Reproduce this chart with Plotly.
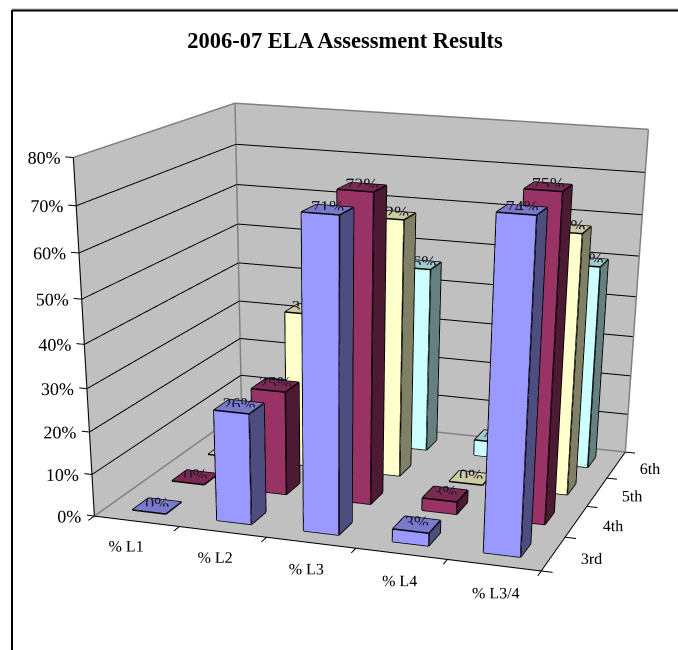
import plotly.graph_objects as go

categories = ["% L1", "% L2", "% L3", "% L4", "% L3/4"]
grades = ["3rd", "4th", "5th", "6th"]
results = {
    "3rd": [0, 26, 71, 3, 74],
    "4th": [0, 25, 72, 3, 75],
    "5th": [0, 38, 62, 0, 62],
    "6th": [0, 50, 46, 4, 50],
}
z_ticks = [0, 10, 20, 30, 40, 50, 60, 70, 80]

# front, side and top shades for each grade
shades = {
    "3rd": ("#9999FF", "#4D4D80", "#7A7ACC"),
    "4th": ("#993366", "#4D1A33", "#7A2952"),
    "5th": ("#FFFFCC", "#808066", "#CCCCA3"),
    "6th": ("#CCFFFF", "#668080", "#A3CCCC"),
}

BAR = 0.4
PAGE_W, PAGE_H = 826, 1600
SERIF = "Liberation Serif, Times New Roman, serif"
INK = "#1a1a2a"
WALL = "#C0C0C0"
FLAT = dict(ambient=1, diffuse=0, specular=0, roughness=1, fresnel=0)

# spare room around the chart box so ticks and labels are not clipped by the scene
PAD_X, PAD_Y, PAD_Z = 1, 1, 10
BOX_ASPECT = (1, 0.8756, 0.7501)


def line_trace(pairs, color, width):
    xs, ys, zs = [], [], []
    for a, b in pairs:
        xs += [a[0], b[0], None]
        ys += [a[1], b[1], None]
        zs += [a[2], b[2], None]
    return go.Scatter3d(x=xs, y=ys, z=zs, mode="lines", hoverinfo="skip",
                        line=dict(color=color, width=width), showlegend=False)


def text_trace(xs, ys, zs, labels, size, position="middle center", color="#000000"):
    return go.Scatter3d(x=xs, y=ys, z=zs, mode="text", text=labels, hoverinfo="skip",
                        textposition=position, showlegend=False,
                        textfont=dict(family=SERIF, size=size, color=color))


def panel(px, py, pz, color):
    return go.Mesh3d(x=px, y=py, z=pz, i=[0, 0], j=[1, 2], k=[2, 3], color=color,
                     flatshading=True, hoverinfo="skip", lighting=FLAT)


def bar_traces(cat, depth, value, colors):
    x0, x1 = cat + 0.5 - BAR / 2, cat + 0.5 + BAR / 2
    y0, y1 = depth + 0.5 - BAR / 2, depth + 0.5 + BAR / 2
    z0, z1 = 0, value
    px = [x0, x1, x1, x0, x0, x1, x1, x0]
    py = [y0, y0, y1, y1, y0, y0, y1, y1]
    pz = [z0, z0, z0, z0, z1, z1, z1, z1]
    # two triangles each for the front, right and top faces
    ii = [0, 0, 1, 1, 4, 4]
    jj = [1, 5, 2, 6, 5, 6]
    kk = [5, 4, 6, 5, 6, 7]
    front, side, top = colors
    mesh = go.Mesh3d(x=px, y=py, z=pz, i=ii, j=jj, k=kk, flatshading=True,
                     facecolor=[front, front, side, side, top, top], hoverinfo="skip", lighting=FLAT)
    corner = lambda n: (px[n], py[n], pz[n])
    edges = [(0, 1), (1, 5), (5, 4), (4, 0), (1, 2), (2, 6), (6, 5), (6, 7), (7, 4)]
    return [mesh, line_trace([(corner(a), corner(b)) for a, b in edges], "#000000", 3)]


fig = go.Figure()
n_cat, n_grade, z_top = len(categories), len(grades), z_ticks[-1]

# walls and floor sit a hair behind the lines drawn on them
fig.add_trace(panel([0, n_cat, n_cat, 0], [n_grade + .01] * 4, [0, 0, z_top, z_top], WALL))
fig.add_trace(panel([-.01] * 4, [0, n_grade, n_grade, 0], [0, 0, z_top, z_top], WALL))
fig.add_trace(panel([0, n_cat, n_cat, 0], [0, 0, n_grade, n_grade], [-.15] * 4, WALL))

grid = []
for t in z_ticks[1:-1]:
    grid += [((0, 0, t), (0, n_grade, t)), ((0, n_grade, t), (n_cat, n_grade, t))]
fig.add_trace(line_trace(grid, "#000000", 2))

fig.add_trace(line_trace([
    ((0, 0, z_top), (0, n_grade, z_top)),
    ((0, n_grade, z_top), (n_cat, n_grade, z_top)),
    ((0, n_grade, 0), (0, n_grade, z_top)),
    ((n_cat, n_grade, 0), (n_cat, n_grade, z_top)),
    ((0, 0, 0), (0, n_grade, 0)),
    ((0, n_grade, 0), (n_cat, n_grade, 0)),
], "#808080", 3))

axis_edges = [((0, 0, 0), (n_cat, 0, 0)), ((n_cat, 0, 0), (n_cat, n_grade, 0)), ((0, 0, 0), (0, 0, z_top))]
axis_edges += [((c, 0, 0), (c, -0.14, 0)) for c in range(n_cat + 1)]
axis_edges += [((n_cat, d, 0), (n_cat + 0.12, d, 0)) for d in range(n_grade + 1)]
axis_edges += [((0, 0, t), (-0.09, 0, t)) for t in z_ticks]
fig.add_trace(line_trace(axis_edges, "#000000", 2))

# bars, with a percent label resting on each top face
for d, grade in enumerate(grades):
    for c, value in enumerate(results[grade]):
        for trace in bar_traces(c, d, value, shades[grade]):
            fig.add_trace(trace)
    fig.add_trace(text_trace([c + 0.5 for c in range(n_cat)], [d + 0.5] * n_cat,
                             [v + 0.6 for v in results[grade]],
                             [f"{v}%" for v in results[grade]], 18, color=INK))

# axis labels
fig.add_trace(text_trace([0.05] * len(z_ticks), [0] * len(z_ticks), z_ticks,
                         [f"{t}%" for t in z_ticks], 18, "middle left"))
fig.add_trace(text_trace([c + 0.72 for c in range(n_cat)], [-0.7] * n_cat, [0] * n_cat,
                         categories, 16))
fig.add_trace(text_trace([n_cat + 0.41] * n_grade, [d + 0.5 for d in range(n_grade)], [0] * n_grade,
                         grades, 16))


def bare_axis(rng):
    return dict(range=rng, autorange=False, visible=False)


fig.update_layout(
    width=PAGE_W, height=PAGE_H, autosize=False,
    margin=dict(l=0, r=0, t=0, b=0),
    paper_bgcolor="#FFFFFF", showlegend=False,
    title=dict(text="<b>2006-07 ELA Assessment Results</b>", x=345 / PAGE_W, y=1 - 40 / PAGE_H,
               xanchor="center", yanchor="middle",
               font=dict(family=SERIF, size=22.5, color="#000000")),
    scene=dict(
        domain=dict(x=[0, 1], y=[0, 1]),
        aspectmode="manual",
        aspectratio=dict(x=BOX_ASPECT[0] * (n_cat + 2 * PAD_X) / n_cat,
                         y=BOX_ASPECT[1] * (n_grade + 2 * PAD_Y) / n_grade,
                         z=BOX_ASPECT[2] * (z_top + 2 * PAD_Z) / z_top),
        xaxis=bare_axis([-PAD_X, n_cat + PAD_X]),
        yaxis=bare_axis([-PAD_Y, n_grade + PAD_Y]),
        zaxis=bare_axis([-PAD_Z, z_top + PAD_Z]),
        bgcolor="rgba(0,0,0,0)",
        camera=dict(
            eye=dict(x=1.3083, y=-4.0952, z=1.0096),
            center=dict(x=1.0582, y=-3.2414, z=0.5529),
            up=dict(x=-0.1492, y=0.4321, z=0.8894),
            projection=dict(type="perspective"),
        ),
    ),
    shapes=[
        dict(type="line", xref="paper", yref="paper", x0=12 / PAGE_W, x1=1, y0=1 - 9 / PAGE_H, y1=1 - 9 / PAGE_H,
             line=dict(color="#B0B0B0", width=1)),
        dict(type="line", xref="paper", yref="paper", x0=12 / PAGE_W, x1=1, y0=1 - 10.5 / PAGE_H, y1=1 - 10.5 / PAGE_H,
             line=dict(color="#000000", width=2)),
        dict(type="line", xref="paper", yref="paper", x0=12 / PAGE_W, x1=12 / PAGE_W, y0=0, y1=1 - 10 / PAGE_H,
             line=dict(color="#000000", width=2)),
    ],
)

fig.write_html("out.html", config=dict(displayModeBar=False))
